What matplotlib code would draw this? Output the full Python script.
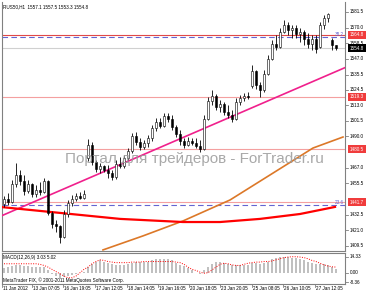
import numpy as np
import matplotlib
matplotlib.use('Agg')
import matplotlib.pyplot as plt
import matplotlib.transforms as mtransforms

plt.rcParams['font.family'] = ['Liberation Sans', 'DejaVu Sans']

# RUS50 H1 bars
opens = [1440, 1444, 1442, 1455, 1462, 1457, 1450, 1455, 1448, 1451,
         1449, 1457, 1434, 1426, 1424, 1416, 1433, 1441, 1444, 1446,
         1445, 1474, 1484, 1471, 1466, 1468, 1465, 1463, 1460, 1470,
         1468, 1474, 1479, 1490, 1486, 1482, 1485, 1489, 1496, 1501,
         1498, 1505, 1503, 1497, 1492, 1487, 1484, 1487, 1485, 1483,
         1481, 1503, 1516, 1520, 1512, 1514, 1508, 1506, 1503, 1515,
         1518, 1520, 1527, 1538, 1528, 1524, 1536, 1547, 1558, 1556,
         1567, 1572, 1568, 1570, 1565, 1567, 1562, 1558, 1562, 1556,
         1572, 1577, 1561, 1557.1]
highs = [1446.5, 1448.5, 1458, 1470.5, 1465.5, 1461.5, 1458, 1456, 1454, 1456.5,
         1459.5, 1458, 1435, 1428.5, 1425, 1436, 1443.5, 1447, 1448.5, 1449,
         1450.5, 1488, 1486, 1473, 1470.5, 1469, 1469, 1465.5, 1472.5, 1475,
         1476.5, 1481.5, 1492.5, 1493.5, 1489, 1487.5, 1491, 1498.5, 1503.5, 1503.5,
         1507.5, 1507.5, 1506, 1498.5, 1495, 1489, 1489.5, 1489, 1489, 1487.5,
         1506, 1519, 1524, 1521, 1517, 1515, 1513, 1509.5, 1518, 1520.5,
         1522, 1522.5, 1542.5, 1539, 1530, 1539, 1550, 1561, 1564.5, 1569.5,
         1575.5, 1574, 1572, 1572, 1569.5, 1568, 1566, 1564.5, 1564.5, 1574,
         1579.5, 1581, 1562.5, 1557.5]
lows = [1438, 1439.5, 1441, 1453, 1454, 1447, 1448.5, 1445.5, 1445.5, 1447,
        1448.5, 1432, 1422.5, 1420, 1411.5, 1415, 1431, 1439, 1442.5, 1444,
        1444, 1472, 1469, 1464, 1463, 1464, 1459.5, 1458, 1459, 1466.5,
        1467, 1473, 1478, 1483.5, 1480, 1481, 1482, 1487, 1494, 1496.5,
        1497, 1500.5, 1494.5, 1489.5, 1483.5, 1481.5, 1483, 1483.5, 1481.5, 1478.5,
        1480, 1502, 1513, 1509.5, 1508, 1506, 1503.5, 1500.5, 1502, 1513,
        1516, 1517.5, 1525.5, 1525, 1519, 1523, 1535, 1546, 1553.5, 1555,
        1566, 1564.5, 1562.5, 1562.5, 1559.5, 1557, 1555, 1553.5, 1551.5, 1555,
        1569, 1574, 1553.5, 1553.3]
closes = [1444, 1442, 1455, 1462, 1457, 1450, 1455, 1448, 1451, 1449,
          1457, 1434, 1426, 1424, 1416, 1433, 1441, 1444, 1446, 1445,
          1448, 1484, 1471, 1466, 1468, 1465, 1463, 1460, 1470, 1468,
          1474, 1479, 1490, 1486, 1482, 1485, 1489, 1496, 1501, 1498,
          1505, 1503, 1497, 1492, 1487, 1484, 1487, 1485, 1483, 1481,
          1503, 1516, 1520, 1512, 1514, 1508, 1506, 1503, 1515, 1518,
          1520, 1519, 1538, 1528, 1524, 1536, 1547, 1558, 1556, 1567,
          1572, 1568, 1570, 1565, 1567, 1562, 1558, 1562, 1554, 1572,
          1577, 1580, 1557, 1554.8]

macd_hist = [4, 5, 6, 7, 7, 6, 6, 5, 5, 5, 5,
             2, -1, -3, -5, -4,
             -3, -2, -1, 0, 1,
             5, 8, 10, 11,
             10, 9, 8, 7, 7, 7, 8,
             9, 10, 10, 10, 10, 11, 12, 12, 12,
             12, 11, 9, 7,
             6, 4, 2, 0, -1,
             2, 5, 8, 10,
             10, 9, 8, 7, 7, 7, 7, 7,
             9, 9, 8, 9, 10,
             12, 13, 14, 14, 14, 13,
             13, 12, 11, 10, 9,
             8, 8, 8, 7, 5, 3.03]
macd_signal = [8, 8, 8, 8, 8, 8, 8, 8, 8, 7.5,
               6.5, 5, 3, 1, -1, -3, -4.5, -4.5, -3, 0,
               3, 5, 8, 10, 11.5, 11, 10, 9.5, 9, 9,
               9, 9, 9.5, 9.5, 9.5, 10, 10, 10, 10, 10,
               10, 10, 10, 9.5, 9, 7.5, 5, 3, 2, 0.5,
               -0.5, 0, 2.5, 5, 7.5, 8.5, 8, 7, 6.5, 6.5,
               7.5, 8.5, 9, 9.5, 9.5, 10, 10, 10.5, 11.5, 12.5,
               13.5, 14, 14.3, 14.3, 14, 13.5, 12.5, 11, 10, 8.5,
               7, 6, 5.3, 5.02]

price_ticks = [1581.5, 1570.0, 1558.5, 1547.0, 1535.5, 1524.5, 1513.0,
               1501.5, 1490.0, 1467.0, 1455.5, 1432.5, 1421.0, 1409.5]
level_top = 1564.8
levels_red = [1519.3, 1480.5, 1441.7]
bid = 1554.8
fibo_levels = [1563.1, 1439.6]
fibo_names = ['38.2', '23.6']

trend_bars = [-1.0, 85.25]
trend_prices = [1431.2, 1540.6]
ma_slow_bars = [24.75, 34.75, 44.75, 56.5, 66.5, 77.25, 84.75]
ma_slow = [1406.6, 1416.9, 1427.9, 1443.3, 1461.7, 1481.5, 1489.6]
ma_fast_bars = [-1, 14, 29, 44.75, 54, 64, 74, 82.75]
ma_fast = [1438.2, 1433.8, 1429.4, 1427.1, 1427.1, 1429.4, 1433.0, 1438.2]

macd_ticks = [14.33, 0.00, -8.36]
date_bars = [-0.5, 7, 14.75, 22.75, 30.75, 38.5, 46.25, 54, 62, 69.75, 77.75]
date_labels = ['11 Jan 2012', '13 Jan 07:05', '16 Jan 19:05', '17 Jan 12:05',
               '18 Jan 14:05', '19 Jan 16:05', '20 Jan 18:05', '23 Jan 20:05',
               '25 Jan 08:05', '26 Jan 10:05', '27 Jan 12:05']

W, H = 366, 293
fig = plt.figure(figsize=(W / 100, H / 100), dpi=100)
fig.patch.set_facecolor('white')

ax = fig.add_axes([2 / W, 1 - 251 / H, 343 / W, 249 / H])
ax2 = fig.add_axes([2 / W, 1 - 284 / H, 343 / W, 31 / H])

grey = '#808080'
small = 3.3

# main window
idx = np.arange(len(closes))
o = np.array(opens)
c = np.array(closes)
ax.vlines(idx, lows, highs, color='black', lw=0.6, zorder=4)
up = c >= o
ax.bar(idx[up], (c - o)[up], bottom=o[up], width=0.6, color='white',
       edgecolor='black', lw=0.4, zorder=5)
ax.bar(idx[~up], (o - c)[~up], bottom=c[~up], width=0.6, color='black',
       edgecolor='black', lw=0.4, zorder=5)

ax.axhline(level_top, color='#e04848', lw=0.8, zorder=2)
for lv in levels_red:
    ax.axhline(lv, color='#f4a0a0', lw=0.8, zorder=2)
ax.axhline(bid, color='#d0d0d0', lw=0.8, zorder=1)
for lv, nm in zip(fibo_levels, fibo_names):
    ax.axhline(lv, color='#6464d2', lw=0.8, ls=(0, (5, 3)), zorder=2)
    ax.text(84.9, lv, nm, ha='right', va='bottom', fontsize=small,
            color='#6464d2', zorder=6)

ax.plot(trend_bars, trend_prices, color='#f0208c', lw=1.2, zorder=3)
ax.plot(ma_slow_bars, ma_slow, color='#dc7828', lw=1.2, zorder=3)
ax.plot(ma_fast_bars, ma_fast, color='#ff0000', lw=1.6, zorder=3)

ax.text(0.56, 0.37, 'Портал для трейдеров - ForTrader.ru', transform=ax.transAxes,
        fontsize=11, color='#9a9a9a', ha='center', va='center', alpha=0.85, zorder=6)

ax.set_xlim(-0.5, 85.25)
ax.set_ylim(1405.8, 1588.85)

ytr = ax.get_yaxis_transform()
for p in price_ticks:
    ax.plot([1.0, 1.008], [p, p], color=grey, lw=0.6, transform=ytr, clip_on=False)
    ax.text(1.0146, p, f'{p:.1f}', transform=ytr, fontsize=small, va='center',
            ha='left', clip_on=False)
for lv, fc in [(level_top, '#f03c3c'), (bid, 'black')] + [(lv, '#f03c3c') for lv in levels_red]:
    ax.text(1.0146, lv, f'{lv:.1f}', transform=ytr, fontsize=small, va='center',
            ha='left', color='white', clip_on=False, zorder=7,
            bbox=dict(boxstyle='square,pad=0.35', fc=fc, ec='none'))

# MACD window
ax2.bar(idx, macd_hist, width=0.35, color='#c0c0c0', zorder=2)
ax2.plot(idx, macd_signal, color='red', lw=0.7, ls=(0, (1, 1.5)), zorder=3)
ax2.set_xlim(-0.5, 85.25)
ax2.set_ylim(-10.12, 17.64)
ytr2 = ax2.get_yaxis_transform()
for v in macd_ticks:
    ax2.plot([1.0, 1.008], [v, v], color=grey, lw=0.6, transform=ytr2, clip_on=False)
    ax2.text(1.0146, v, f'{v:.2f}', transform=ytr2, fontsize=small, va='center',
             ha='left', clip_on=False)

xtr = ax2.get_xaxis_transform()
for b, lab in zip(date_bars, date_labels):
    ax2.plot([b, b], [0, -0.1], color=grey, lw=0.6, transform=xtr, clip_on=False)
    ax2.text(b + 0.2, -0.14, lab, transform=xtr, fontsize=small, va='center',
             ha='left', clip_on=False)

for a in (ax, ax2):
    a.set_xticks([])
    a.set_yticks([])
    a.set_facecolor('white')
    for s in a.spines.values():
        s.set_color(grey)
        s.set_linewidth(0.8)
ax.spines['top'].set_visible(False)

fig.text(3 / W, 1 - 7 / H, 'RUS50,H1  1557.1 1557.5 1553.3 1554.8', fontsize=small,
         va='center', ha='left')
fig.text(3 / W, 1 - 258 / H, 'MACD(12,26,9) 3.03 5.02', fontsize=small,
         va='center', ha='left')
fig.text(3 / W, 1 - 280 / H, 'MetaTrader FIX, © 2001-2011 MetaQuotes Software Corp.',
         fontsize=small, va='center', ha='left')

fig.savefig('out.png', dpi=100, facecolor='white')
